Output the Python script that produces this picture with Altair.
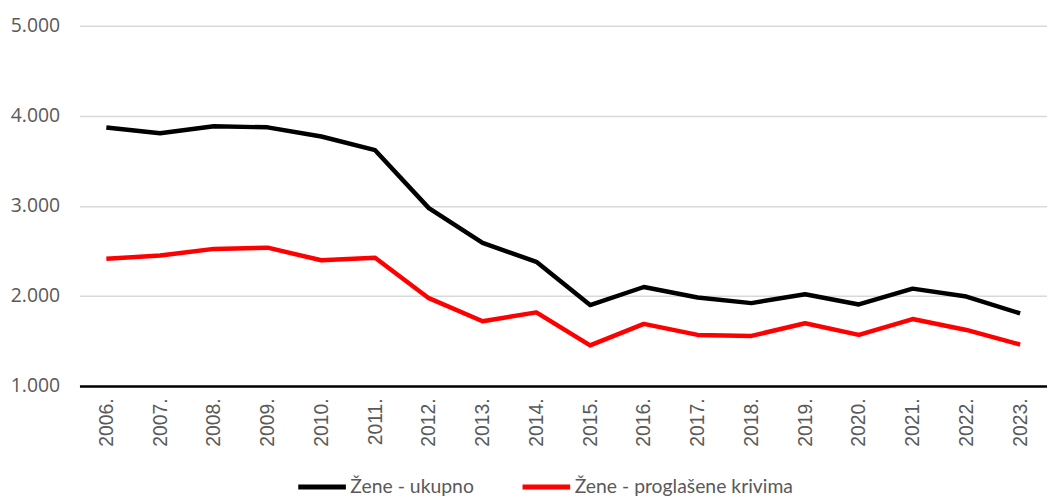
import altair as alt
import pandas as pd

years = ["2006.", "2007.", "2008.", "2009.", "2010.", "2011.", "2012.", "2013.", "2014.",
         "2015.", "2016.", "2017.", "2018.", "2019.", "2020.", "2021.", "2022.", "2023."]
ukupno = [3871, 3806, 3883, 3872, 3770, 3618, 2975, 2588, 2379,
          1898, 2099, 1982, 1920, 2019, 1905, 2081, 1993, 1806]
krivima = [2412, 2448, 2522, 2536, 2396, 2423, 1975, 1718, 1817,
           1450, 1689, 1567, 1556, 1696, 1567, 1743, 1622, 1460]
series_names = ["Žene - ukupno", "Žene - proglašene krivima"]
series_colors = ["#000000", "#ff0000"]

rows = []
for i, y in enumerate(years):
    rows.append({"godina": y, "serija": series_names[0], "vrijednost": ukupno[i], "ord": 0})
    rows.append({"godina": y, "serija": series_names[1], "vrijednost": krivima[i], "ord": 1})
df = pd.DataFrame(rows)

chart = alt.Chart(df).mark_line(strokeWidth=4.5, strokeJoin="round").encode(
    x=alt.X("godina:O", sort=years, title=None,
            scale=alt.Scale(type="point", padding=0.5),
            axis=alt.Axis(labelAngle=270, labelFont="Liberation Sans", labelFontSize=19.5,
                          labelColor="#595959", labelPadding=12, ticks=False,
                          domainColor="#000000", domainWidth=2.5, grid=False)),
    y=alt.Y("vrijednost:Q", title=None,
            scale=alt.Scale(domain=[1000, 5000], nice=False, zero=False),
            axis=alt.Axis(values=[1000, 2000, 3000, 4000, 5000],
                          labelExpr="replace(format(datum.value, ',d'), ',', '.')",
                          labelFont="Open Sans", labelFontSize=19.5, labelColor="#595959",
                          labelPadding=20, ticks=False, domain=False,
                          gridColor="#d9d9d9", gridWidth=1.5)),
    color=alt.Color("serija:N", sort=series_names,
                    scale=alt.Scale(domain=series_names, range=series_colors),
                    legend=alt.Legend(title=None, orient="none", direction="horizontal",
                                      legendX=218, legendY=438,
                                      symbolType="stroke", symbolSize=2304,
                                      symbolStrokeWidth=5, labelFont="Lato",
                                      labelFontSize=19.5, labelColor="#595959",
                                      labelOffset=2, labelLimit=0,
                                      columnPadding=38, padding=0)),
    order="ord:Q",
).properties(
    width=975, height=363,
    autosize=alt.AutoSizeParams(type="none"),
    padding={"left": 72, "top": 16, "right": 0, "bottom": 110},
).configure_view(stroke=None)

chart.save("out.html", embed_options={"renderer": "svg", "actions": False})
